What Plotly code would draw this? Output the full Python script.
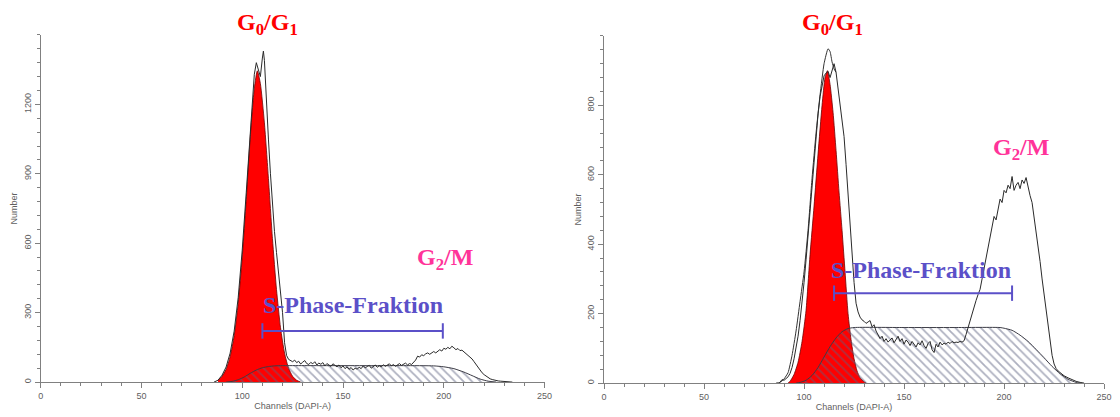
import plotly.graph_objects as go

# ---------------- Left panel data ----------------
L_red_ch = [88, 90, 92, 94, 96, 98, 100, 102, 104, 106, 107.5, 109, 111, 113, 115, 117, 119, 121, 123, 125, 127, 129]
L_red_ct = [8, 25, 55, 110, 200, 340, 540, 790, 1060, 1270, 1345, 1290, 1120, 880, 620, 400, 235, 125, 60, 25, 8, 0]

L_s_ch = [92, 95, 98, 101, 104, 107, 110, 113, 116, 120, 140, 160, 180, 195, 200, 205, 210, 214, 218, 222, 226]
L_s_ct = [0, 3, 10, 22, 38, 52, 62, 67, 70, 71, 71, 71, 71, 70, 66, 58, 43, 28, 13, 4, 0]

L_raw_ch = [86, 88, 90, 92, 94, 96, 98, 100, 102, 104, 105, 106, 107, 108, 109, 110, 110.5, 111, 112, 113, 114,
            115, 116, 117, 118, 119, 120, 121, 122, 123,
            124, 125, 126, 127, 128, 129, 130, 131, 132, 133, 134, 135, 136, 137, 138, 139, 140, 141, 142, 143,
            144, 145, 146, 147, 148, 149, 150, 151, 152, 153, 154, 155, 156, 157, 158, 159, 160, 161, 162, 163,
            164, 165, 166, 167, 168, 169, 170, 171, 172, 173, 174, 175, 176, 177, 178, 179, 180, 181, 182, 183,
            184, 185, 186, 187, 188, 189, 190, 191, 192, 193, 194, 195, 196, 197, 198, 199, 200, 201, 202, 203,
            204, 205, 206, 207, 208, 209, 210, 211, 212, 213, 214, 215, 216, 217, 218, 219, 220, 221, 222, 223,
            224, 225, 226, 227, 228, 229, 230, 232, 234]
L_raw_ct = [0, 8, 30, 65, 125, 220, 365, 570, 820, 1090, 1230, 1330, 1380, 1345, 1320, 1400, 1430, 1390, 1200, 1050, 900,
            770, 650, 560, 470, 390, 300, 170, 115, 98,
            92, 88, 95, 84, 90, 78, 86, 93, 80, 76, 85, 79, 88, 74, 82, 77, 84, 70, 80, 75,
            68, 79, 72, 66, 74, 62, 70, 58, 66, 55, 63, 52, 60, 56, 64, 58, 70, 62, 67, 72,
            60, 69, 74, 64, 71, 66, 75, 68, 73, 79, 70, 76, 68, 74, 80, 72, 77, 82, 74, 80,
            76, 84, 95, 112, 108, 118, 114, 122, 126, 120, 128, 132, 126, 135, 140, 134, 146, 142, 150, 144,
            155, 148, 140, 145, 136, 138, 130, 124, 118, 108, 100, 88, 76, 62, 50, 40, 32, 25, 19, 14,
            11, 8, 6, 5, 4, 3, 2, 1, 0]

L_tri_ch = [110, 200]
L_yticks = [0, 300, 600, 900, 1200]

# ---------------- Right panel data ----------------
R_red_ch = [92, 93, 95, 97, 99, 101, 103, 105, 107, 109, 110.5, 111.7, 113, 114.5, 116, 117.5, 119, 120.5, 122, 123.5, 125, 126.5, 128, 130, 131]
R_red_ct = [0, 5, 25, 60, 120, 210, 370, 510, 660, 800, 880, 900, 860, 780, 670, 550, 440, 320, 200, 125, 70, 35, 15, 4, 0]

R_s_ch = [96, 98, 101, 104, 107, 110, 113, 116, 119, 122, 125, 150, 175, 198, 200, 204, 208, 212, 216, 220, 224, 228, 232, 236, 238]
R_s_ct = [0, 2, 8, 22, 45, 75, 105, 130, 148, 157, 160, 160, 160, 160, 158, 152, 138, 120, 97, 73, 48, 27, 11, 2, 0]

R_env_ch = [86, 88, 90, 92, 94, 96, 98, 100, 102, 104, 106, 108, 110, 112, 113, 114, 115, 116]
R_env_ct = [0, 2, 12, 30, 80, 150, 235, 320, 440, 590, 720, 830, 920, 963, 955, 925, 905, 895]

R_raw_ch = [88, 89, 90, 91, 92, 93, 94, 95, 96, 97, 98, 99, 100, 101, 102, 103, 104, 105, 106, 107, 108, 109, 110,
            111, 112, 113, 114, 115, 116, 117, 118, 119, 120, 121, 122, 123, 124, 125, 126, 127, 128, 129, 130,
            131, 132, 133, 134, 135, 136, 137, 138, 139, 140, 141, 142, 143, 144, 145, 146, 147, 148, 149, 150,
            151, 152, 153, 154, 155, 156, 157, 158, 159, 160, 161, 162, 163, 164, 165, 166, 167, 168, 169, 170,
            171, 172, 173, 174, 175, 176, 177, 178, 179, 180, 181, 182, 183, 184, 185, 186, 187, 188, 189, 190,
            191, 192, 193, 194, 195, 196, 197, 198, 199, 200, 201, 202, 203, 204, 205, 206, 207, 208, 209, 210,
            211, 212, 213, 214, 215, 216, 217, 218, 219, 220, 221, 222, 223, 224, 225, 226, 227, 228, 229, 230,
            232, 234, 236, 238, 240]
R_raw_ct = [3, 10, 8, 12, 18, 28, 45, 70, 100, 135, 180, 230, 290, 355, 425, 500, 575, 650, 715, 775, 825, 862, 885,
            893, 898, 880, 900, 920, 895, 850, 790, 745, 710, 630, 540, 450, 370, 290, 230, 205, 190, 182, 178,
            172, 176, 180, 162, 168, 150, 140, 128, 135, 120, 128, 118, 124, 130, 116, 125, 135, 120, 128, 112,
            124, 118, 108, 120, 112, 104, 116, 110, 122, 108, 100, 114, 120, 96, 88, 112, 104, 118, 110, 115,
            112, 118, 114, 120, 116, 118, 117, 120, 118, 122, 140, 160, 180, 205, 225, 238, 255, 270, 300, 330,
            360, 395, 420, 455, 480, 470, 505, 530, 520, 555, 548, 570, 560, 595, 555, 570, 578, 560, 585, 575,
            592, 560, 540, 520, 480, 440, 395, 350, 300, 255, 210, 165, 120, 80, 55, 42, 35, 30, 25, 21,
            15, 9, 5, 2, 0]

R_tri_ch = [116, 203.5]
R_yticks = [0, 200, 400, 600, 800]

X_ticks = [0, 50, 100, 150, 200, 250]

# ---------------- styles ----------------
RED = "#ff0000"
PINK = "#ff3399"
VIOLET = "#5b50c8"
AXC = "#808080"
TXT = "#606060"
HATCH = "#5c6180"

fig = go.Figure()


def add_panel(xa, ya, red_ch, red_ct, s_ch, s_ct, raw_ch, raw_ct, tri_ch, tri_y, env=None):
    # red G0/G1 fit
    fig.add_trace(go.Scatter(x=red_ch, y=red_ct, xaxis=xa, yaxis=ya, mode="lines",
                             line=dict(color="#700000", width=0.8, shape="spline", smoothing=0.6),
                             fill="tozeroy", fillcolor=RED, hoverinfo="skip"))
    # S-phase fit, hatched
    fig.add_trace(go.Scatter(x=s_ch, y=s_ct, xaxis=xa, yaxis=ya, mode="lines",
                             line=dict(color="#3c3c46", width=1, shape="spline", smoothing=0.6),
                             fill="tozeroy", fillcolor="rgba(0,0,0,0)",
                             fillpattern=dict(shape="\\", fgcolor=HATCH, size=6, solidity=0.3),
                             hoverinfo="skip"))
    if env is not None:
        fig.add_trace(go.Scatter(x=env[0], y=env[1], xaxis=xa, yaxis=ya, mode="lines",
                                 line=dict(color="#333333", width=1, shape="spline", smoothing=0.5),
                                 hoverinfo="skip"))
    # raw histogram
    fig.add_trace(go.Scatter(x=raw_ch, y=raw_ct, xaxis=xa, yaxis=ya, mode="lines",
                             line=dict(color="#2a2a2a", width=1), hoverinfo="skip"))
    # peak position markers
    fig.add_trace(go.Scatter(x=tri_ch, y=[tri_y] * len(tri_ch), xaxis=xa, yaxis=ya, mode="markers",
                             marker=dict(symbol="triangle-up", size=8, color="black"),
                             cliponaxis=False, hoverinfo="skip"))


add_panel("x", "y", L_red_ch, L_red_ct, L_s_ch, L_s_ct, L_raw_ch, L_raw_ct, L_tri_ch, -22)
add_panel("x2", "y2", R_red_ch, R_red_ct, R_s_ch, R_s_ct, R_raw_ch, R_raw_ct, R_tri_ch, -12,
          env=(R_env_ch, R_env_ct))

# S-phase bars
L_bar_ch = [110, 199.5]
L_bar_y = 221
R_bar_ch = [115, 204]
R_bar_y = 259
for xa, ya, bx, by in [("x", "y", L_bar_ch, L_bar_y), ("x2", "y2", R_bar_ch, R_bar_y)]:
    fig.add_trace(go.Scatter(x=bx, y=[by, by], xaxis=xa, yaxis=ya, mode="lines+markers",
                             line=dict(color=VIOLET, width=2),
                             marker=dict(symbol="line-ns", size=11, line=dict(color=VIOLET, width=2)),
                             hoverinfo="skip"))

W, H = 1120, 417


def xdom(a, b):
    return [a / W, b / W]


def ydom(top, bottom):
    return [(H - bottom) / H, (H - top) / H]


tf = dict(family="Liberation Sans", size=9, color=TXT)
axis_common = dict(showline=True, linecolor=AXC, linewidth=1, ticks="outside", tickcolor=AXC,
                   tickfont=tf, showgrid=False, zeroline=False, mirror=False, tickmode="array")

fig.update_layout(
    width=W, height=H,
    margin=dict(l=0, r=0, t=0, b=0),
    paper_bgcolor="white", plot_bgcolor="white",
    showlegend=False,
    xaxis=dict(axis_common, domain=xdom(38, 547), range=[0, 250], anchor="y", tickvals=X_ticks, ticklen=5,
               minor=dict(dtick=10, tick0=0, ticks="outside", ticklen=3, tickcolor=AXC),
               title=dict(text="Channels (DAPI-A)", font=tf, standoff=2)),
    yaxis=dict(axis_common, domain=ydom(35, 383), range=[0, 1500], anchor="x", tickvals=L_yticks, ticklen=5,
               tickangle=-90,
               minor=dict(dtick=60, tick0=0, ticks="outside", ticklen=3, tickcolor=AXC),
               title=dict(text="Number", font=tf, standoff=3)),
    xaxis2=dict(axis_common, domain=xdom(607, 1112), range=[0, 250], anchor="y2", tickvals=X_ticks, ticklen=5,
                minor=dict(dtick=10, tick0=0, ticks="outside", ticklen=3, tickcolor=AXC),
                title=dict(text="Channels (DAPI-A)", font=tf, standoff=2)),
    yaxis2=dict(axis_common, domain=ydom(36, 384), range=[0, 1000], anchor="x2", tickvals=R_yticks, ticklen=5,
                tickangle=-90,
                minor=dict(dtick=40, tick0=0, ticks="outside", ticklen=3, tickcolor=AXC),
                title=dict(text="Number", font=tf, standoff=3)),
)

SERIF = "Liberation Serif"
ann = []
# left panel labels
ann.append(dict(x=112.7, y=1 - 24 / H, xref="x", yref="paper", text="<b>G<sub>0</sub>/G<sub>1</sub></b>",
                font=dict(family=SERIF, size=24, color=RED)))
ann.append(dict(x=200.4, y=531, xref="x", yref="y", text="<b>G<sub>2</sub>/M</b>",
                font=dict(family=SERIF, size=24, color=PINK)))
ann.append(dict(x=154.7, y=335, xref="x", yref="y", text="<b>S-Phase-Fraktion</b>",
                font=dict(family=SERIF, size=24, color=VIOLET)))
# right panel labels
ann.append(dict(x=114.4, y=1 - 24 / H, xref="x2", yref="paper", text="<b>G<sub>0</sub>/G<sub>1</sub></b>",
                font=dict(family=SERIF, size=24, color=RED)))
ann.append(dict(x=208.4, y=673, xref="x2", yref="y2", text="<b>G<sub>2</sub>/M</b>",
                font=dict(family=SERIF, size=24, color=PINK)))
ann.append(dict(x=158.7, y=327, xref="x2", yref="y2", text="<b>S-Phase-Fraktion</b>",
                font=dict(family=SERIF, size=24, color=VIOLET)))
for a in ann:
    a.update(showarrow=False, xanchor="center", yanchor="middle")
fig.update_layout(annotations=ann)

fig.write_html("out.html")
